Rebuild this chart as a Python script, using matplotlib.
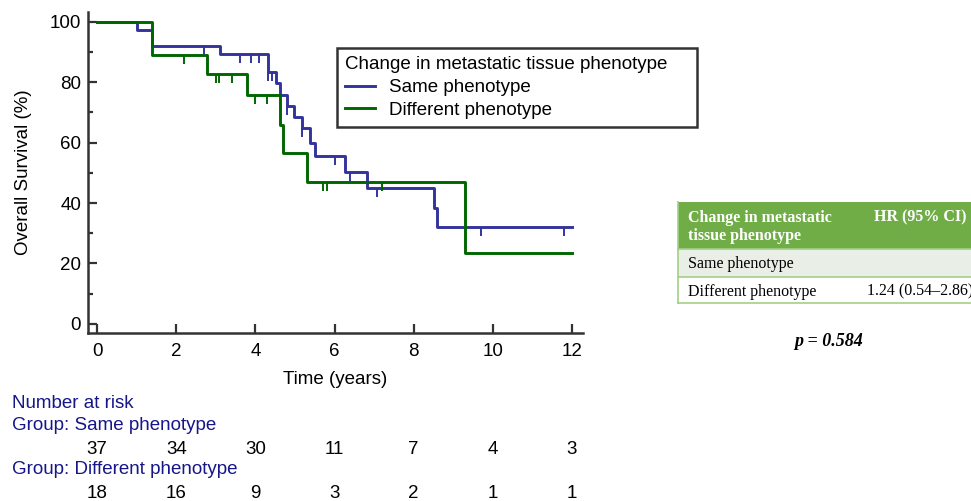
import matplotlib
matplotlib.use('Agg')
import matplotlib.pyplot as plt
from matplotlib.patches import Rectangle
from matplotlib.transforms import blended_transform_factory

## Data
# Same phenotype (KM step curve)
same_t = [0, 1.0, 1.4, 3.1, 4.31, 4.52, 4.62, 4.81, 4.98, 5.19, 5.38, 5.51, 6.26, 6.81, 8.52, 8.58, 12.0]
same_s = [100, 97.3, 91.9, 89.2, 83.3, 79.7, 75.8, 72.2, 68.6, 64.8, 60.0, 55.6, 50.4, 45.1, 38.3, 32.1, 32.1]
same_cens_t = [2.7, 3.6, 3.9, 4.1, 4.33, 4.42, 4.8, 5.18, 6.01, 6.39, 7.08, 9.7, 11.79]
same_cens_s = [91.9, 89.2, 89.2, 89.2, 83.3, 83.3, 72.2, 64.8, 55.6, 50.4, 45.1, 32.1, 32.1]

# Different phenotype
diff_t = [0, 1.4, 2.79, 3.8, 4.62, 4.69, 5.31, 9.29, 12.0]
diff_s = [100, 88.9, 82.8, 75.6, 65.9, 56.5, 47.1, 23.5, 23.5]
diff_cens_t = [2.2, 3.0, 3.09, 3.4, 3.99, 4.3, 5.7, 5.8, 7.19]
diff_cens_s = [88.9, 82.8, 82.8, 82.8, 75.6, 75.6, 47.1, 47.1, 47.1]

risk_times = [0, 2, 4, 6, 8, 10, 12]
risk_same = [37, 34, 30, 11, 7, 4, 3]
risk_diff = [18, 16, 9, 3, 2, 1, 1]

table_header = ["Change in metastatic\ntissue phenotype", "HR (95% CI)"]
table_rows = [["Same phenotype", ""], ["Different phenotype", "1.24 (0.54\u20132.86)"]]
p_text = "p = 0.584"

BLUE = '#33339c'
GREEN = '#006600'
NAVY = '#16168a'
AX_COL = '#333333'
FS = 13.5

plt.rcParams['font.family'] = ['Liberation Sans', 'DejaVu Sans']
plt.rcParams['font.size'] = FS

W, H = 971, 501
fig = plt.figure(figsize=(W / 100, H / 100), dpi=100)


def fx(x):
    return x / W


def fy(y):
    return 1 - y / H


ax = fig.add_axes([fx(88), fy(333), fx(583) - fx(88), fy(12) - fy(333)])

ax.step(same_t, same_s, where='post', color=BLUE, lw=2.1, label='Same phenotype')
ax.step(diff_t, diff_s, where='post', color=GREEN, lw=2.1, label='Different phenotype')
ax.plot(same_cens_t, same_cens_s, ls='none', marker=3, ms=6.5, mew=1.4, color=BLUE)
ax.plot(diff_cens_t, diff_cens_s, ls='none', marker=3, ms=6.5, mew=1.4, color=GREEN)

ax.set_xlim(-0.23, 12.28)
ax.set_ylim(-3, 103.2)
ax.set_xticks(risk_times)
ax.set_yticks([0, 20, 40, 60, 80, 100])
ax.set_yticks(range(10, 100, 20), minor=True)

for side in ['top', 'right']:
    ax.spines[side].set_visible(False)
for side in ['left', 'bottom']:
    ax.spines[side].set_linewidth(1.8)
    ax.spines[side].set_color(AX_COL)
ax.tick_params(which='major', direction='in', length=6.5, width=1.6, color=AX_COL, pad=5, labelsize=FS)
ax.tick_params(which='minor', direction='in', length=3.5, width=1.6, color=AX_COL)
ax.tick_params(axis='x', pad=7)

ax.set_xlabel('Time (years)', fontsize=FS, labelpad=8)
ax.set_ylabel('Overall Survival (%)', fontsize=FS, labelpad=13)

# legend box stretched to the reference's frame
lx0, ly0, lx1, ly1 = 337, 48, 697, 125
leg = ax.legend(title='Change in metastatic tissue phenotype', loc='upper left',
                bbox_to_anchor=(fx(lx0), fy(ly1), fx(lx1) - fx(lx0), fy(ly0) - fy(ly1)),
                bbox_transform=fig.transFigure, mode='expand',
                borderaxespad=0, fancybox=False, framealpha=1, edgecolor=AX_COL,
                fontsize=FS, title_fontsize=FS, alignment='left',
                handlelength=1.6, handletextpad=0.7, labelspacing=0.3,
                borderpad=0.45)
leg.get_frame().set_linewidth(1.8)

## Number at risk
fig.text(fx(12), fy(403), 'Number at risk', color=NAVY, va='center', fontsize=FS)
fig.text(fx(12), fy(426), 'Group: Same phenotype', color=NAVY, va='center', fontsize=FS)
fig.text(fx(12), fy(470), 'Group: Different phenotype', color=NAVY, va='center', fontsize=FS)
trans = blended_transform_factory(ax.transData, fig.transFigure)
for t, n in zip(risk_times, risk_same):
    ax.text(t, fy(450), str(n), transform=trans, ha='center', va='center', fontsize=FS, clip_on=False)
for t, n in zip(risk_times, risk_diff):
    ax.text(t, fy(493), str(n), transform=trans, ha='center', va='center', fontsize=FS, clip_on=False)

## HR table on the right
HEAD_COL = '#70ad47'
ROW_COL = '#e9efe6'
LINE_COL = '#a2cf86'
serif = ['Liberation Serif', 'DejaVu Serif']

fig.add_artist(Rectangle((fx(678), fy(249)), fx(1000) - fx(678), fy(202) - fy(249),
                         transform=fig.transFigure, facecolor=HEAD_COL, edgecolor='none'))
fig.add_artist(Rectangle((fx(678), fy(277)), fx(1000) - fx(678), fy(249) - fy(277),
                         transform=fig.transFigure, facecolor=ROW_COL, edgecolor='none'))
for yy in [249, 277, 303]:
    fig.add_artist(plt.Line2D([fx(678), 1.0], [fy(yy), fy(yy)], transform=fig.transFigure,
                              color=LINE_COL, lw=1.2))
fig.add_artist(plt.Line2D([fx(678), fx(678)], [fy(202), fy(303)], transform=fig.transFigure,
                          color=LINE_COL, lw=1.2))

fig.text(fx(688), fy(227), table_header[0], color='white', fontweight='bold', family=serif,
         fontsize=11.5, va='center', ha='left', linespacing=1.2)
fig.text(fx(874), fy(217.5), table_header[1], color='white', fontweight='bold', family=serif,
         fontsize=11.5, va='center', ha='left')
row_y = [264.5, 291.5]
for (lab, val), yy in zip(table_rows, row_y):
    fig.text(fx(688), fy(yy), lab, family=serif, fontsize=11.5, va='center', ha='left')
    fig.text(fx(867), fy(yy), val, family=serif, fontsize=11.5, va='center', ha='left')

fig.text(fx(829), fy(341), p_text, family=serif, fontweight='bold', fontstyle='italic',
         fontsize=13, ha='center', va='center')

fig.savefig('out.png', dpi=100)
plt.close('all')
